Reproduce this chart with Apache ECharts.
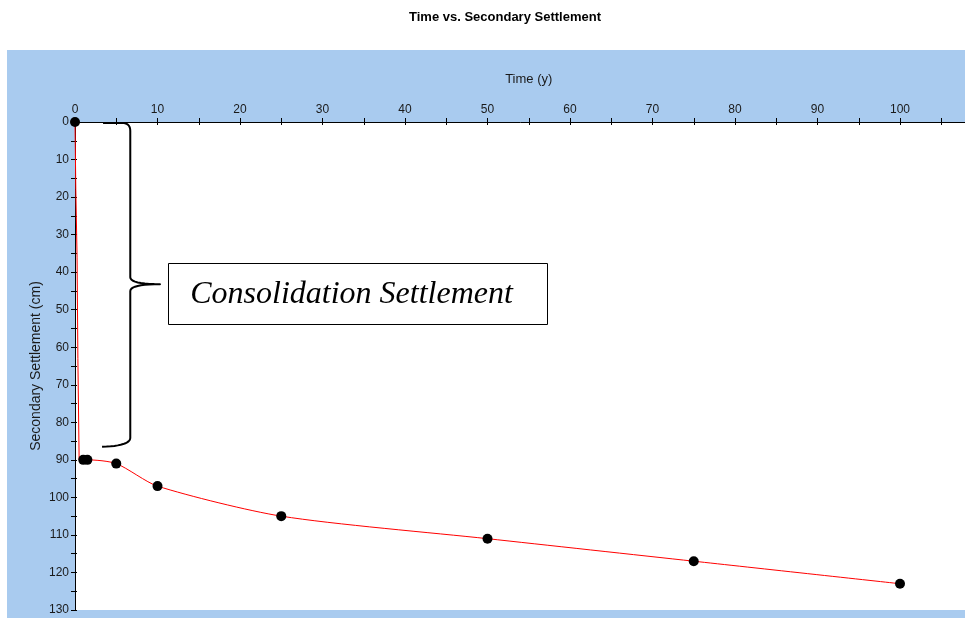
<!DOCTYPE html>
<html>
<head>
<meta charset="utf-8">
<script src="https://cdn.jsdelivr.net/npm/echarts@6/dist/echarts.min.js"></script>
<style>
  html, body { margin: 0; padding: 0; background: #fff; }
  #chart { width: 965px; height: 618px; }
</style>
</head>
<body>
<div id="chart"></div>
<script>
// Sampled times (years) and settlement (cm) shown as markers
const markerTime = [0, 1, 1.5, 5, 10, 25, 50, 75, 100];
const markerSettlement = [0, 90, 90, 91, 97, 105, 111, 117, 123];

// Primary consolidation branch: nearly instantaneous drop to 90 cm
const consolidationTime = [0, 0.1, 0.25, 0.35, 0.5, 1];
const consolidationSettlement = [0, 18, 36, 63, 90, 90];

// Secondary compression branch
const secondaryTime = [1, 1.5, 5, 10, 25, 50, 75, 100];
const secondarySettlement = [90, 90, 91, 97, 105, 111, 117, 123];

const chartTitle = 'Time vs. Secondary Settlement';
const xName = 'Time (y)';
const yName = 'Secondary Settlement (cm)';
const noteText = 'Consolidation Settlement';

const zip = (xs, ys) => xs.map((x, i) => [x, ys[i]]);

const FONT = '"Liberation Sans", Arial, sans-serif';
const TXT = '#1a1a1a';
const PANEL = '#a9cbef';

const xBase = {
  type: 'value', position: 'top', min: 0, max: 110, interval: 10,
  splitLine: { show: false }
};
const yBase = {
  type: 'value', position: 'left', inverse: true, min: 0, max: 130, interval: 10,
  splitLine: { show: false }
};

const chart = echarts.init(document.getElementById('chart'), null, { renderer: 'canvas' });

chart.setOption({
  animation: false,
  backgroundColor: '#fff',
  grid: {
    left: 75, top: 122, width: 907.5, height: 488,
    outerBoundsMode: 'none',
    show: true, backgroundColor: '#fff', borderWidth: 0, containLabel: false
  },
  xAxis: [
    Object.assign({}, xBase, {
      axisLine: { show: true, lineStyle: { color: '#000', width: 1 } },
      axisTick: { show: true, inside: false, length: 4, lineStyle: { color: '#000' } },
      minorTick: { show: true, splitNumber: 2, length: 4, lineStyle: { color: '#000' } },
      axisLabel: { color: TXT, fontFamily: FONT, fontSize: 12, margin: 6, showMaxLabel: false },
      name: xName, nameLocation: 'middle', nameGap: 36,
      nameTextStyle: { color: TXT, fontFamily: FONT, fontSize: 13 }
    }),
    Object.assign({}, xBase, {
      axisLine: { show: false },
      axisTick: { show: true, inside: true, length: 3, lineStyle: { color: '#000' } },
      minorTick: { show: true, splitNumber: 2, length: 3, lineStyle: { color: '#000' } },
      axisLabel: { show: false }
    })
  ],
  yAxis: [
    Object.assign({}, yBase, {
      axisLine: { show: true, lineStyle: { color: '#000', width: 1 } },
      axisTick: { show: true, inside: false, length: 4, lineStyle: { color: '#000' } },
      minorTick: { show: true, splitNumber: 2, length: 4, lineStyle: { color: '#000' } },
      axisLabel: { color: TXT, fontFamily: FONT, fontSize: 12, margin: 6 },
      name: yName, nameLocation: 'middle', nameGap: 32, nameMoveOverlap: false,
      nameTextStyle: { color: TXT, fontFamily: FONT, fontSize: 14 }
    }),
    Object.assign({}, yBase, {
      axisLine: { show: false },
      axisTick: { show: true, inside: true, length: 2, lineStyle: { color: '#000' } },
      minorTick: { show: true, splitNumber: 2, length: 2, lineStyle: { color: '#000' } },
      axisLabel: { show: false }
    })
  ],
  series: [
    {
      name: 'Consolidation', type: 'line', xAxisIndex: 0, yAxisIndex: 0,
      data: zip(consolidationTime, consolidationSettlement),
      showSymbol: false, symbol: 'none',
      lineStyle: { color: '#ff0000', width: 1 }, z: 3
    },
    {
      name: 'Secondary', type: 'line', xAxisIndex: 0, yAxisIndex: 0,
      data: zip(secondaryTime, secondarySettlement),
      showSymbol: false, symbol: 'none', smooth: 0.25,
      lineStyle: { color: '#ff0000', width: 1 }, z: 3
    },
    {
      name: 'Samples', type: 'scatter', xAxisIndex: 0, yAxisIndex: 0,
      data: zip(markerTime, markerSettlement),
      symbol: 'circle', symbolSize: 10, clip: false,
      itemStyle: { color: '#000', opacity: 1 }, z: 5
    }
  ]
});

// Annotation: a brace along the consolidation drop with a boxed label
const note = {
  braceTop: 0, braceBottom: 86, braceMid: 43.2,
  braceLeftX: 3.4, braceX: 6.7, tipX: 10.3,
  boxX: [11.3, 57.2], boxY: [37.6, 53.8]
};
const toPx = (x, y) => chart.convertToPixel({ gridIndex: 0 }, [x, y]);

const [braceLx, braceTopY] = toPx(note.braceLeftX, note.braceTop);
const [braceVx, braceBotY] = toPx(note.braceX, note.braceBottom);
const [braceTipX, braceMidY] = toPx(note.tipX, note.braceMid);
const [boxX0, boxY0] = toPx(note.boxX[0], note.boxY[0]);
const [boxX1, boxY1] = toPx(note.boxX[1], note.boxY[1]);

// Quadratic segments flattened into polyline points
function quad(p0, c, p1, n) {
  const pts = [];
  for (let i = 1; i <= n; i++) {
    const t = i / n, u = 1 - t;
    pts.push([u * u * p0[0] + 2 * u * t * c[0] + t * t * p1[0],
              u * u * p0[1] + 2 * u * t * c[1] + t * t * p1[1]]);
  }
  return pts;
}
const rr = 8;
const yT = braceTopY + 1;
const yB = braceBotY + 1;
let bracePts = [[braceLx, yT], [braceVx - rr, yT]];
bracePts = bracePts.concat(quad([braceVx - rr, yT], [braceVx, yT], [braceVx, yT + rr], 8));
bracePts.push([braceVx, braceMidY - 7]);
bracePts = bracePts.concat(quad([braceVx, braceMidY - 7], [braceVx, braceMidY], [braceTipX, braceMidY], 10));
bracePts = bracePts.concat(quad([braceTipX, braceMidY], [braceVx, braceMidY], [braceVx, braceMidY + 7], 10));
bracePts.push([braceVx, yB - rr]);
bracePts = bracePts.concat(quad([braceVx, yB - rr], [braceVx, yB], [braceLx - 1, yB + 1], 12));

chart.setOption({
  graphic: [
    {
      type: 'rect', z: -100, silent: true,
      shape: { x: 7, y: 50, width: 965 - 7, height: 618 - 50 },
      style: { fill: PANEL }
    },
    {
      type: 'text', z: 10, x: 505, y: 17,
      style: {
        text: chartTitle, fill: '#000', font: 'bold 13px ' + FONT,
        textAlign: 'center', textVerticalAlign: 'middle'
      }
    },
    {
      type: 'polyline', z: 10, silent: true,
      shape: { points: bracePts },
      style: { stroke: '#000', lineWidth: 2, fill: null, lineJoin: 'round' }
    },
    {
      type: 'rect', z: 10, silent: true,
      shape: {
        x: Math.round(boxX0) + 0.5, y: Math.round(boxY0) + 0.5,
        width: Math.round(boxX1 - boxX0), height: Math.round(boxY1 - boxY0)
      },
      style: { fill: '#fff', stroke: '#000', lineWidth: 1 }
    },
    {
      type: 'text', z: 11, x: boxX0 + 22, y: (boxY0 + boxY1) / 2 + 1,
      style: {
        text: noteText, fill: '#000',
        font: 'italic 32px "Liberation Serif", "Times New Roman", serif',
        textAlign: 'left', textVerticalAlign: 'middle'
      }
    }
  ]
});
</script>
</body>
</html>
